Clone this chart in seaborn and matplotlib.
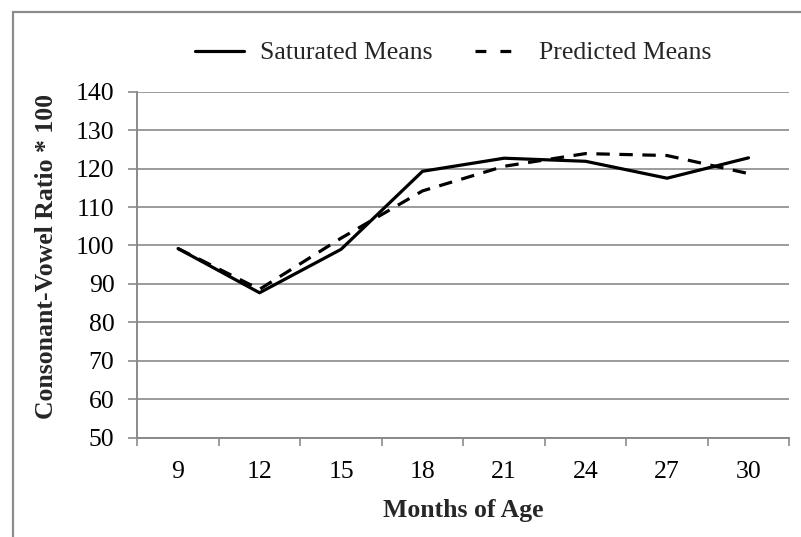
import matplotlib
matplotlib.use("Agg")
import matplotlib.pyplot as plt
import matplotlib.patches as mpatches
from matplotlib.lines import Line2D
import seaborn as sns
import pandas as pd
import numpy as np

months = ["9", "12", "15", "18", "21", "24", "27", "30"]
saturated = [99.2, 87.7, 99.0, 119.3, 122.7, 121.9, 117.5, 122.8]
predicted = [99.2, 88.6, 101.9, 114.2, 120.6, 123.9, 123.4, 118.7]
yticks = [50, 60, 70, 80, 90, 100, 110, 120, 130, 140]

sns.set_theme(style="white")
plt.rcParams["font.family"] = ["Liberation Serif", "DejaVu Serif"]

W, H = 801, 537
fig = plt.figure(figsize=(W / 100, H / 100), dpi=100)
ax = fig.add_axes([137.3 / W, 1 - 437.7 / H, (789.3 - 137.3) / W, (437.7 - 91.7) / H])

pos = np.arange(len(months))
df = pd.DataFrame({"pos": pos, "sat": saturated, "pred": predicted})

sns.lineplot(data=df, x="pos", y="sat", ax=ax, color="black", lw=2.3,
             label="Saturated Means")
sns.lineplot(data=df, x="pos", y="pred", ax=ax, color="black", lw=2.3,
             label="Predicted Means", dashes=False)
ax.lines[1].set_dashes((4.2, 3.0))

gcol = "#8a8a8a"
ax.set_xlim(-0.5, len(months) - 0.5)
ax.set_ylim(50, 140)
ax.set_yticks(yticks)
ax.set_yticklabels([str(v) for v in yticks])
ax.set_xticks(pos)
ax.set_xticklabels(months)
ax.set_xticks(np.arange(-0.5, len(months) + 0.5, 1), minor=True)
ax.grid(axis="y", color=gcol, lw=1.2)
ax.grid(axis="x", visible=False)
ax.set_axisbelow(True)
for s in ["top", "right"]:
    ax.spines[s].set_visible(False)
for s in ["left", "bottom"]:
    ax.spines[s].set_color(gcol)
    ax.spines[s].set_linewidth(1.4)
ax.tick_params(axis="y", which="major", left=True, length=6.5, width=1.2, color=gcol,
               labelsize=18.5, pad=10, labelcolor="black")
ax.tick_params(axis="x", which="major", bottom=False, labelsize=18.5, pad=11,
               labelcolor="black")
ax.tick_params(axis="x", which="minor", bottom=True, length=6, width=1.2, color=gcol)

ax.set_xlabel("Months of Age", fontsize=18.5, fontweight="bold", labelpad=11)
ax.set_ylabel("Consonant-Vowel Ratio * 100", fontsize=18.5, fontweight="bold")
ax.yaxis.set_label_coords((58 - 137.3) / 652, 0.525)

ax.get_legend().remove()
handles = [Line2D([], [], color="black", lw=2.3),
           Line2D([], [], color="black", lw=2.3, linestyle=(0, (3.4, 4.4)))]
labels = ["Saturated Means", "Predicted Means"]
fig.legend(handles, labels, loc="center", bbox_to_anchor=(0.566, 1 - 53 / H), ncol=2,
           frameon=False, fontsize=18.5, handlelength=1.9, columnspacing=1.65,
           handletextpad=0.6)

fig.patches.append(mpatches.Rectangle((13 / W, -0.1), 1.2, 1 - 12 / H + 0.1,
                                      transform=fig.transFigure, fill=False,
                                      edgecolor="#8c8c8c", lw=1.6))

fig.savefig("out.png", dpi=100)
